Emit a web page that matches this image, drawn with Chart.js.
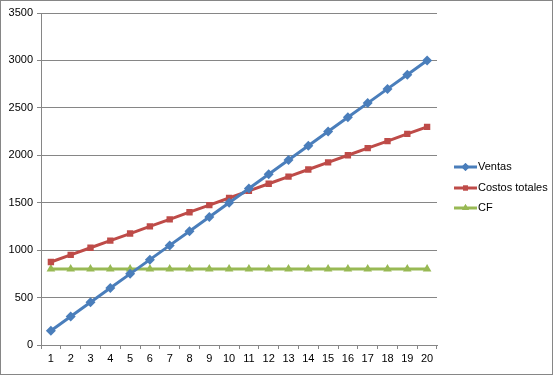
<!DOCTYPE html>
<html>
<head>
<meta charset="utf-8">
<script src="https://cdn.jsdelivr.net/npm/chart.js@4.4.1/dist/chart.umd.min.js"></script>
<style>
  html, body { margin: 0; padding: 0; background: #fff; }
  #wrap { width: 553px; height: 375px; position: relative; }
</style>
</head>
<body>
<div id="wrap"><canvas id="grafico" width="553" height="375"></canvas></div>
<script>
// datos del gráfico
const categorias = ['1','2','3','4','5','6','7','8','9','10','11','12','13','14','15','16','17','18','19','20'];
const ventas = [150, 300, 450, 600, 750, 900, 1050, 1200, 1350, 1500, 1650, 1800, 1950, 2100, 2250, 2400, 2550, 2700, 2850, 3000];
const costosTotales = [875, 950, 1025, 1100, 1175, 1250, 1325, 1400, 1475, 1550, 1625, 1700, 1775, 1850, 1925, 2000, 2075, 2150, 2225, 2300];
const costoFijo = [800, 800, 800, 800, 800, 800, 800, 800, 800, 800, 800, 800, 800, 800, 800, 800, 800, 800, 800, 800];

const FUENTE = "'Liberation Sans', 'DejaVu Sans', sans-serif";
const GRIS = '#868686';

const series = [
    { label: 'Ventas', data: ventas, color: '#4A7EBB', marker: 'rectRot', radius: 5 },
    { label: 'Costos totales', data: costosTotales, color: '#BE4B48', marker: 'rect', radius: 4.5 },
    { label: 'CF', data: costoFijo, color: '#98B954', marker: 'triangle', radius: 5 }
];

// marco exterior y leyenda estilo Excel
const marcoYLeyenda = {
    id: 'marcoYLeyenda',
    afterDraw(chart) {
        const ctx = chart.ctx;
        ctx.save();
        ctx.strokeStyle = GRIS;
        ctx.lineWidth = 1;
        ctx.strokeRect(0.5, 0.5, 552, 374);

        const filas = [167, 188, 208];
        series.forEach((s, i) => {
            const y = filas[i];
            ctx.strokeStyle = s.color;
            ctx.lineWidth = 3;
            ctx.beginPath();
            ctx.moveTo(454, y);
            ctx.lineTo(477, y);
            ctx.stroke();
            ctx.fillStyle = s.color;
            Chart.helpers.drawPoint(ctx, {
                pointStyle: s.marker, radius: s.radius - 1, borderWidth: 0, rotation: 0
            }, 465.5, y);
            ctx.fill();
            ctx.fillStyle = '#000';
            ctx.font = '11px ' + FUENTE;
            ctx.textBaseline = 'middle';
            ctx.textAlign = 'left';
            ctx.fillText(s.label, 478, y);
        });
        ctx.restore();
    }
};

const ctx = document.getElementById('grafico').getContext('2d');
new Chart(ctx, {
    type: 'line',
    data: {
        labels: categorias,
        datasets: series.map(s => ({
            label: s.label,
            data: s.data,
            borderColor: s.color,
            backgroundColor: s.color,
            borderWidth: 3,
            pointStyle: s.marker,
            pointRadius: s.radius,
            pointBorderWidth: 0,
            pointBackgroundColor: s.color,
            pointHoverRadius: s.radius,
            tension: 0
        }))
    },
    options: {
        responsive: false,
        animation: false,
        layout: { padding: { left: 0, right: 116, top: 13, bottom: 0 } },
        plugins: {
            legend: { display: false },
            tooltip: { enabled: false }
        },
        scales: {
            x: {
                offset: true,
                grid: {
                    offset: true,
                    drawOnChartArea: false,
                    color: GRIS,
                    tickLength: 4
                },
                border: { color: GRIS },
                ticks: {
                    color: '#000',
                    font: { family: FUENTE, size: 11 },
                    maxRotation: 0,
                    autoSkip: false,
                    padding: 3
                },
                afterFit(scale) { scale.height = 30; }
            },
            y: {
                min: 0,
                max: 3500,
                ticks: {
                    stepSize: 500,
                    color: '#000',
                    font: { family: FUENTE, size: 11 },
                    padding: 4,
                    callback: v => String(v)
                },
                grid: { color: GRIS, tickLength: 4 },
                border: { color: GRIS },
                afterFit(scale) { scale.width = 41; }
            }
        }
    },
    plugins: [marcoYLeyenda]
});
</script>
</body>
</html>
